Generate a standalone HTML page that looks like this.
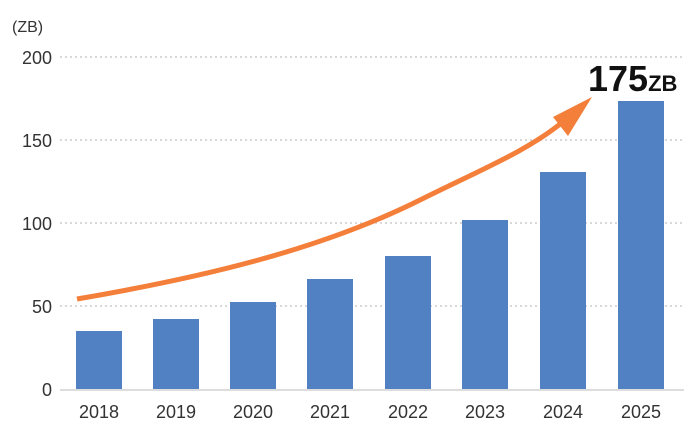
<!DOCTYPE html>
<html><head><meta charset="utf-8"><style>
body{margin:0;background:#fff;}
svg{display:block;font-family:"Liberation Sans",sans-serif;}
</style></head><body>
<svg width="698" height="439" viewBox="0 0 698 439">
<text x="12" y="32" font-size="16" fill="#333">(ZB)</text>
<g stroke="#ccc" stroke-width="1.5" stroke-dasharray="2,3">
<line x1="60" y1="57" x2="684" y2="57"/>
<line x1="60" y1="140" x2="684" y2="140"/>
<line x1="60" y1="223" x2="684" y2="223"/>
<line x1="60" y1="306" x2="684" y2="306"/>
</g>
<g font-size="18" fill="#333" text-anchor="end">
<text x="52" y="64">200</text>
<text x="52" y="147">150</text>
<text x="52" y="230">100</text>
<text x="52" y="313">50</text>
<text x="52" y="396">0</text>
</g>
<g fill="#5181c2">
<rect x="76" y="331" width="46" height="59"/>
<rect x="153" y="319" width="46" height="71"/>
<rect x="230" y="302" width="46" height="88"/>
<rect x="307" y="279" width="46" height="111"/>
<rect x="385" y="256" width="46" height="134"/>
<rect x="462" y="220" width="46" height="170"/>
<rect x="540" y="172" width="46" height="218"/>
<rect x="618" y="101" width="46" height="289"/>
</g>
<line x1="60" y1="390" x2="684" y2="390" stroke="#ddd" stroke-width="2"/>
<g font-size="18" fill="#333" text-anchor="middle">
<text x="99" y="418">2018</text>
<text x="176" y="418">2019</text>
<text x="253" y="418">2020</text>
<text x="330" y="418">2021</text>
<text x="408" y="418">2022</text>
<text x="485" y="418">2023</text>
<text x="563" y="418">2024</text>
<text x="641" y="418">2025</text>
</g>
<path d="M77,299 C200,278 320,250 420,200 C480,170 530,150 565,120" fill="none" stroke="#f47f3a" stroke-width="5"/>
<polygon points="592,97 553,117 568,136" fill="#f47f3a"/>
<text x="588" y="91" font-size="36" font-weight="bold" fill="#111">175<tspan font-size="22">ZB</tspan></text>
</svg>
</body></html>
